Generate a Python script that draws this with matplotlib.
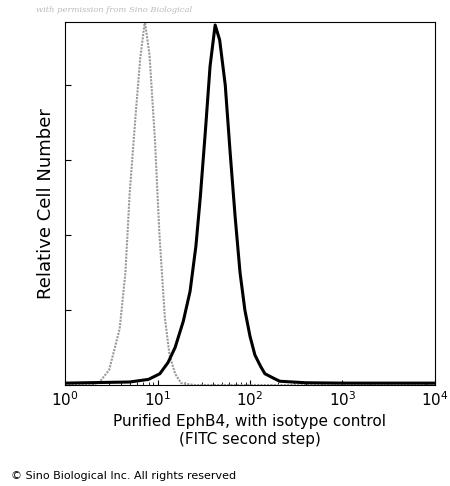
import matplotlib
matplotlib.use("Agg")
import matplotlib.pyplot as plt
import numpy as np

iso_x = [1, 2.0, 2.4, 3.0, 3.9, 4.5, 5.0, 5.8, 6.5, 7.3, 8.2, 9.4, 10.5, 12, 13.5, 15.5, 18, 25, 10000]
iso_y = [0, 0, 1, 4, 15, 30, 51, 72, 87, 97, 88, 65, 40, 18, 8, 3, 0.5, 0, 0]
eph_x = [1, 5, 8, 10.6, 13, 15.5, 19, 22.5, 26, 29, 33, 37, 42, 47, 54, 61, 69, 78, 88, 100, 113, 130, 145, 180, 210, 400, 1000, 10000]
eph_y = [0.5, 0.8, 1.5, 3, 6, 10, 17, 25, 37, 50, 68, 85, 96, 92, 80, 62, 45, 30, 20, 13, 8, 5, 3, 1.8, 1.0, 0.6, 0.5, 0.5]

fig = plt.figure(figsize=(4.5, 4.86), dpi=100)
ax = fig.add_axes([65/450, 1-385/486, 370/450, 363/486])
ax.plot(iso_x, iso_y, color="#999999", lw=1.5, ls=(0, (1, 0.6)))
ax.plot(eph_x, eph_y, color="black", lw=2.2)
ax.set_xscale("log")
ax.set_xlim(1, 1e4)
ax.set_ylim(0, 96.8)
ax.set_yticks([0, 20, 40, 60, 80])
ax.set_yticklabels([])
ax.tick_params(axis="y", direction="in", length=4)
ax.tick_params(axis="x", which="both", direction="in", labelsize=11)
ax.set_ylabel("Relative Cell Number", fontsize=13)
ax.set_xlabel("Purified EphB4, with isotype control\n(FITC second step)", fontsize=11)
fig.text(0.08, 0.975, "with permission from Sino Biological", fontsize=6, style="italic",
         color="#bbbbbb", family="serif")
fig.text(0.025, 0.015, "© Sino Biological Inc. All rights reserved", fontsize=8)
fig.savefig("out.png", dpi=100)
